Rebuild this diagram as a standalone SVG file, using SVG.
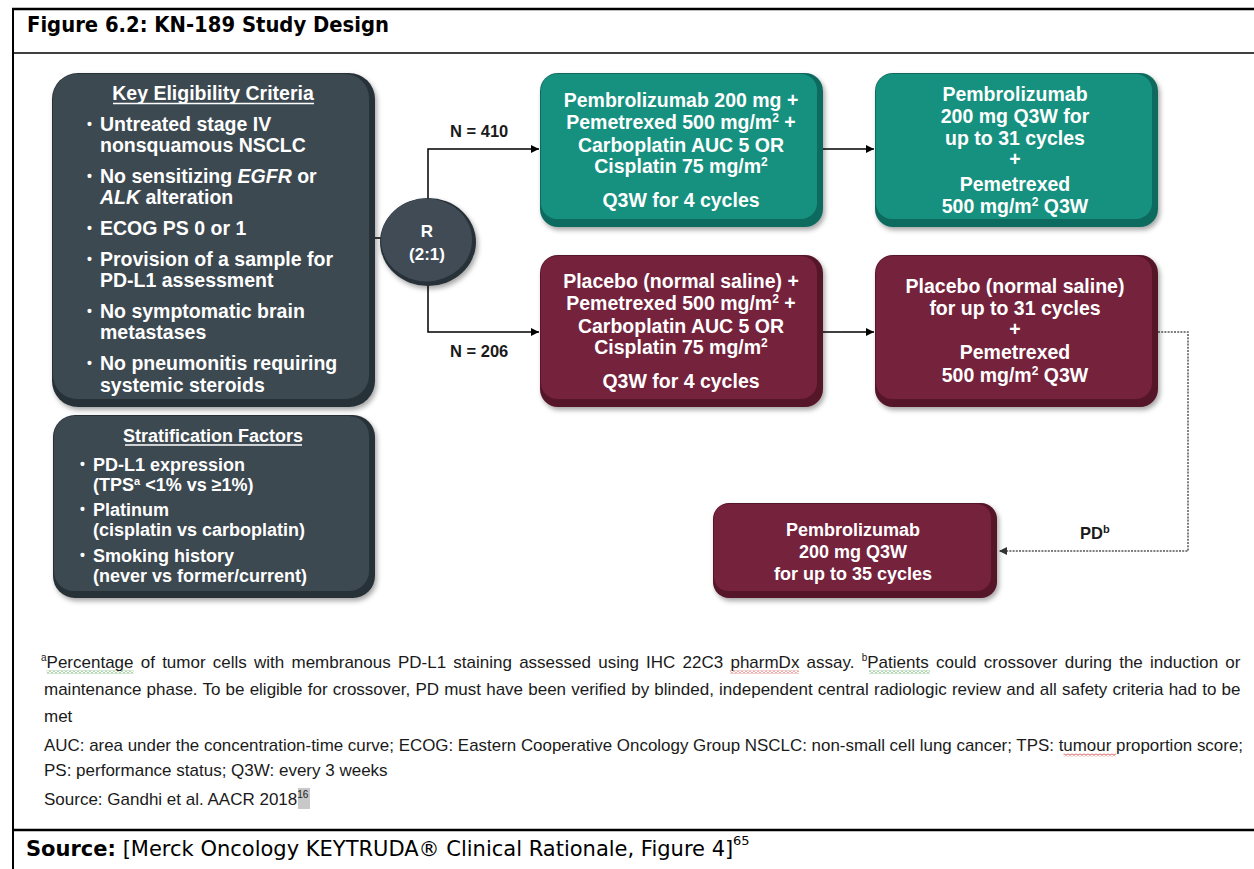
<svg xmlns="http://www.w3.org/2000/svg" width="1254" height="869" viewBox="0 0 1254 869">
<style>
.bx{font-family:"Liberation Sans",Arial,sans-serif;font-weight:bold;fill:#ffffff;text-anchor:middle}
.b19{font-size:19.5px}
.b18{font-size:18px}
.lt{font-family:"Liberation Sans",Arial,sans-serif;font-weight:bold;fill:#ffffff;font-size:19.5px}
.st{font-family:"Liberation Sans",Arial,sans-serif;font-weight:bold;fill:#ffffff;font-size:18px}
.bu{font-size:14px}
.lbl{font-family:"Liberation Sans",Arial,sans-serif;font-weight:bold;fill:#1a1a1a;font-size:16.5px}
.fn{font-family:"Liberation Sans",Arial,sans-serif;font-size:17px;fill:#1a1a1a}
.hd{font-family:"DejaVu Sans",Verdana,sans-serif;fill:#000}
.ln{stroke:#000;stroke-width:1.5;fill:none}
.dl{stroke:#555;stroke-width:1.5;fill:none;stroke-dasharray:2 1.2}
.fr{stroke:#000;fill:none}
.slate-e{fill:#283138}.slate-f{fill:#3c4851}
.teal-e{fill:#0d6a5f}.teal-f{fill:#17917f}
.mar-e{fill:#561429}.mar-f{fill:#75203e}
</style>
<defs>
<filter id="sh" x="-10%" y="-10%" width="125%" height="130%">
<feGaussianBlur in="SourceAlpha" stdDeviation="2.5"/>
<feOffset dx="2" dy="3" result="o"/>
<feFlood flood-color="#000" flood-opacity="0.35"/>
<feComposite in2="o" operator="in"/>
<feMerge><feMergeNode/><feMergeNode in="SourceGraphic"/></feMerge>
</filter>
<marker id="ah" viewBox="0 0 10 10" refX="10" refY="5" markerWidth="9" markerHeight="8" markerUnits="userSpaceOnUse" orient="auto">
<path d="M0,0 L10,5 L0,10 z" fill="#000"/>
</marker>
<marker id="ahg" viewBox="0 0 10 10" refX="10" refY="5" markerWidth="9" markerHeight="8" markerUnits="userSpaceOnUse" orient="auto">
<path d="M0,0 L10,5 L0,10 z" fill="#333"/>
</marker>
<pattern id="wvG" width="4" height="3" patternUnits="userSpaceOnUse">
<path d="M0,0.6 L2,2.4 L4,0.6" fill="none" stroke="#3b9a3b" stroke-width="0.9"/>
</pattern>
<pattern id="wvR" width="4" height="3" patternUnits="userSpaceOnUse">
<path d="M0,0.6 L2,2.4 L4,0.6" fill="none" stroke="#d23232" stroke-width="0.9"/>
</pattern>
</defs>
<rect width="1254" height="869" fill="#ffffff"/>

<!-- frame -->
<g id="frame">
<line class="fr" x1="12" y1="9" x2="1254" y2="9" stroke-width="2.5"/>
<line class="fr" x1="13" y1="8" x2="13" y2="869" stroke-width="2"/>
<line class="fr" x1="12" y1="53" x2="1254" y2="53" stroke-width="1.5"/>
<line class="fr" x1="12" y1="830" x2="1254" y2="830" stroke-width="2.5"/>
<text class="hd" x="27" y="32" font-size="21" font-weight="bold" textLength="362" lengthAdjust="spacingAndGlyphs">Figure 6.2: KN-189 Study Design</text>
<text class="hd" x="26" y="856" font-size="21"><tspan font-weight="bold">Source:</tspan> [Merck Oncology KEYTRUDA® Clinical Rationale, Figure 4]</text>
<text class="hd" x="733" y="845" font-size="13">65</text>
</g>

<!-- connectors -->
<g id="connectors">
<path class="ln" d="M375,238 H382"/>
<path class="ln" d="M428,199 V149 H539" marker-end="url(#ah)"/>
<path class="ln" d="M428,285 V332 H539" marker-end="url(#ah)"/>
<path class="ln" d="M823,149 H874" marker-end="url(#ah)"/>
<path class="ln" d="M823,332 H874" marker-end="url(#ah)"/>
<path class="dl" d="M1158,332 H1188 V551 H999" marker-end="url(#ahg)"/>
<text class="lbl" x="450" y="137">N = 410</text>
<text class="lbl" x="450" y="357">N = 206</text>
<text class="lbl" x="1080" y="539">PD<tspan font-size="11" dy="-6">b</tspan></text>
</g>

<!-- Key eligibility -->
<g id="eligibility">
<g filter="url(#sh)">
<rect class="slate-e" x="52" y="73" width="323" height="334" rx="26"/>
<rect class="slate-f" x="53" y="74" width="316" height="325" rx="24"/>
</g>
<text class="bx b19" x="213" y="100">Key Eligibility  Criteria</text>
<line x1="113" y1="103.5" x2="314" y2="103.5" stroke="#ffffff" stroke-width="1.5"/>
<g class="lt">
<text class="bu" x="87" y="129">•</text><text x="100" y="131">Untreated stage IV</text>
<text x="100" y="152">nonsquamous NSCLC</text>
<text class="bu" x="87" y="181">•</text><text x="100" y="183">No sensitizing <tspan font-style="italic">EGFR</tspan> or</text>
<text x="100" y="204"><tspan font-style="italic">ALK</tspan> alteration</text>
<text class="bu" x="87" y="233">•</text><text x="100" y="235">ECOG PS 0 or 1</text>
<text class="bu" x="87" y="264">•</text><text x="100" y="266">Provision of a sample for</text>
<text x="100" y="287">PD-L1 assessment</text>
<text class="bu" x="87" y="316">•</text><text x="100" y="318">No symptomatic brain</text>
<text x="100" y="339">metastases</text>
<text class="bu" x="87" y="368">•</text><text x="100" y="370">No pneumonitis requiring</text>
<text x="100" y="392">systemic steroids</text>
</g>
</g>

<!-- Stratification -->
<g id="stratification">
<g filter="url(#sh)">
<rect class="slate-e" x="53" y="415" width="322" height="183" rx="22"/>
<rect class="slate-f" x="54" y="416" width="315" height="175" rx="20"/>
</g>
<text class="bx b18" x="213" y="442">Stratification Factors</text>
<line x1="125" y1="445" x2="302" y2="445" stroke="#ffffff" stroke-width="1.5"/>
<g class="st">
<text class="bu" x="80" y="469">•</text><text x="93" y="471">PD-L1 expression</text>
<text x="93" y="491">(TPS<tspan font-size="11" dy="-6">a</tspan><tspan dy="6"> &lt;1% vs ≥1%)</tspan></text>
<text class="bu" x="80" y="514">•</text><text x="93" y="516">Platinum</text>
<text x="93" y="536">(cisplatin vs carboplatin)</text>
<text class="bu" x="80" y="560">•</text><text x="93" y="562">Smoking history</text>
<text x="93" y="582">(never vs former/current)</text>
</g>
</g>

<!-- Randomisation -->
<g id="randomisation">
<g filter="url(#sh)">
<ellipse cx="428" cy="242" rx="48" ry="44" fill="#283138"/>
<ellipse cx="426.5" cy="240" rx="45.5" ry="41.5" fill="#404c55"/>
</g>
<text class="bx" font-size="17" x="427" y="237">R</text>
<text class="bx" font-size="17" x="427" y="260">(2:1)</text>
</g>

<!-- Pembrolizumab induction -->
<g id="pembro-induction">
<g filter="url(#sh)">
<rect class="teal-e" x="540" y="73" width="283" height="154" rx="18"/>
<rect class="teal-f" x="541" y="74" width="276" height="145" rx="16"/>
</g>
<g class="bx b19">
<text x="681" y="107">Pembrolizumab 200 mg +</text>
<text x="681" y="129">Pemetrexed 500 mg/m<tspan font-size="12" dy="-7">2</tspan><tspan dy="7"> +</tspan></text>
<text x="681" y="152">Carboplatin AUC 5 OR</text>
<text x="681" y="173">Cisplatin 75 mg/m<tspan font-size="12" dy="-7">2</tspan></text>
<text x="681" y="207">Q3W for 4 cycles</text>
</g>
</g>

<!-- Pembrolizumab maintenance -->
<g id="pembro-maintenance">
<g filter="url(#sh)">
<rect class="teal-e" x="875" y="73" width="283" height="154" rx="18"/>
<rect class="teal-f" x="876" y="74" width="276" height="145" rx="16"/>
</g>
<g class="bx b19">
<text x="1015" y="101">Pembrolizumab</text>
<text x="1015" y="123">200 mg Q3W for</text>
<text x="1015" y="145">up to 31 cycles</text>
<text x="1015" y="166">+</text>
<text x="1015" y="191">Pemetrexed</text>
<text x="1015" y="213">500 mg/m<tspan font-size="12" dy="-7">2</tspan><tspan dy="7"> Q3W</tspan></text>
</g>
</g>

<!-- Placebo induction -->
<g id="placebo-induction">
<g filter="url(#sh)">
<rect class="mar-e" x="540" y="255" width="283" height="152" rx="18"/>
<rect class="mar-f" x="541" y="256" width="276" height="143" rx="16"/>
</g>
<g class="bx b19">
<text x="681" y="288">Placebo (normal saline) +</text>
<text x="681" y="310">Pemetrexed 500 mg/m<tspan font-size="12" dy="-7">2</tspan><tspan dy="7"> +</tspan></text>
<text x="681" y="333">Carboplatin AUC 5 OR</text>
<text x="681" y="354">Cisplatin 75 mg/m<tspan font-size="12" dy="-7">2</tspan></text>
<text x="681" y="388">Q3W for 4 cycles</text>
</g>
</g>

<!-- Placebo maintenance -->
<g id="placebo-maintenance">
<g filter="url(#sh)">
<rect class="mar-e" x="875" y="255" width="283" height="152" rx="18"/>
<rect class="mar-f" x="876" y="256" width="276" height="143" rx="16"/>
</g>
<g class="bx b19">
<text x="1015" y="293">Placebo (normal saline)</text>
<text x="1015" y="315">for up to 31 cycles</text>
<text x="1015" y="336">+</text>
<text x="1015" y="359">Pemetrexed</text>
<text x="1015" y="382">500 mg/m<tspan font-size="12" dy="-7">2</tspan><tspan dy="7"> Q3W</tspan></text>
</g>
</g>

<!-- Crossover -->
<g id="crossover">
<g filter="url(#sh)">
<rect class="mar-e" x="713" y="503" width="284" height="95" rx="16"/>
<rect class="mar-f" x="714" y="504" width="277" height="87" rx="14"/>
</g>
<g class="bx b18">
<text x="853" y="536">Pembrolizumab</text>
<text x="853" y="558">200 mg Q3W</text>
<text x="853" y="580">for up to 35 cycles</text>
</g>
</g>

<!-- footnotes -->
<g id="footnotes">
<rect x="46.6" y="670.5" width="87" height="3" fill="url(#wvG)"/>
<rect x="730" y="670.5" width="69" height="3" fill="url(#wvR)"/>
<rect x="869" y="670.5" width="61" height="3" fill="url(#wvG)"/>
<rect x="1063.5" y="753.5" width="52.5" height="3" fill="url(#wvR)"/>
<rect x="298" y="788" width="12" height="21" fill="#c8c8c8"/>
<text class="fn" x="41" y="668" word-spacing="2.5"><tspan font-size="10" dy="-7">a</tspan><tspan dy="7">Percentage of tumor cells with membranous PD-L1 staining assessed using IHC 22C3 pharmDx assay. </tspan><tspan font-size="10" dy="-7">b</tspan><tspan dy="7">Patients could crossover during the induction or</tspan></text>
<text class="fn" x="44" y="695" word-spacing="0.45">maintenance phase. To be eligible for crossover, PD must have been verified by blinded, independent central radiologic review and all safety criteria had to be</text>
<text class="fn" x="44" y="722">met</text>
<text class="fn" x="44" y="751" textLength="1199" lengthAdjust="spacingAndGlyphs">AUC: area under the concentration-time curve; ECOG: Eastern Cooperative Oncology Group NSCLC: non-small cell lung cancer; TPS: tumour proportion score;</text>
<text class="fn" x="44" y="776">PS: performance status; Q3W: every 3 weeks</text>
<text class="fn" x="44" y="805">Source: Gandhi et al. AACR 2018<tspan font-size="10" dy="-7">16</tspan></text>
</g>
</svg>
